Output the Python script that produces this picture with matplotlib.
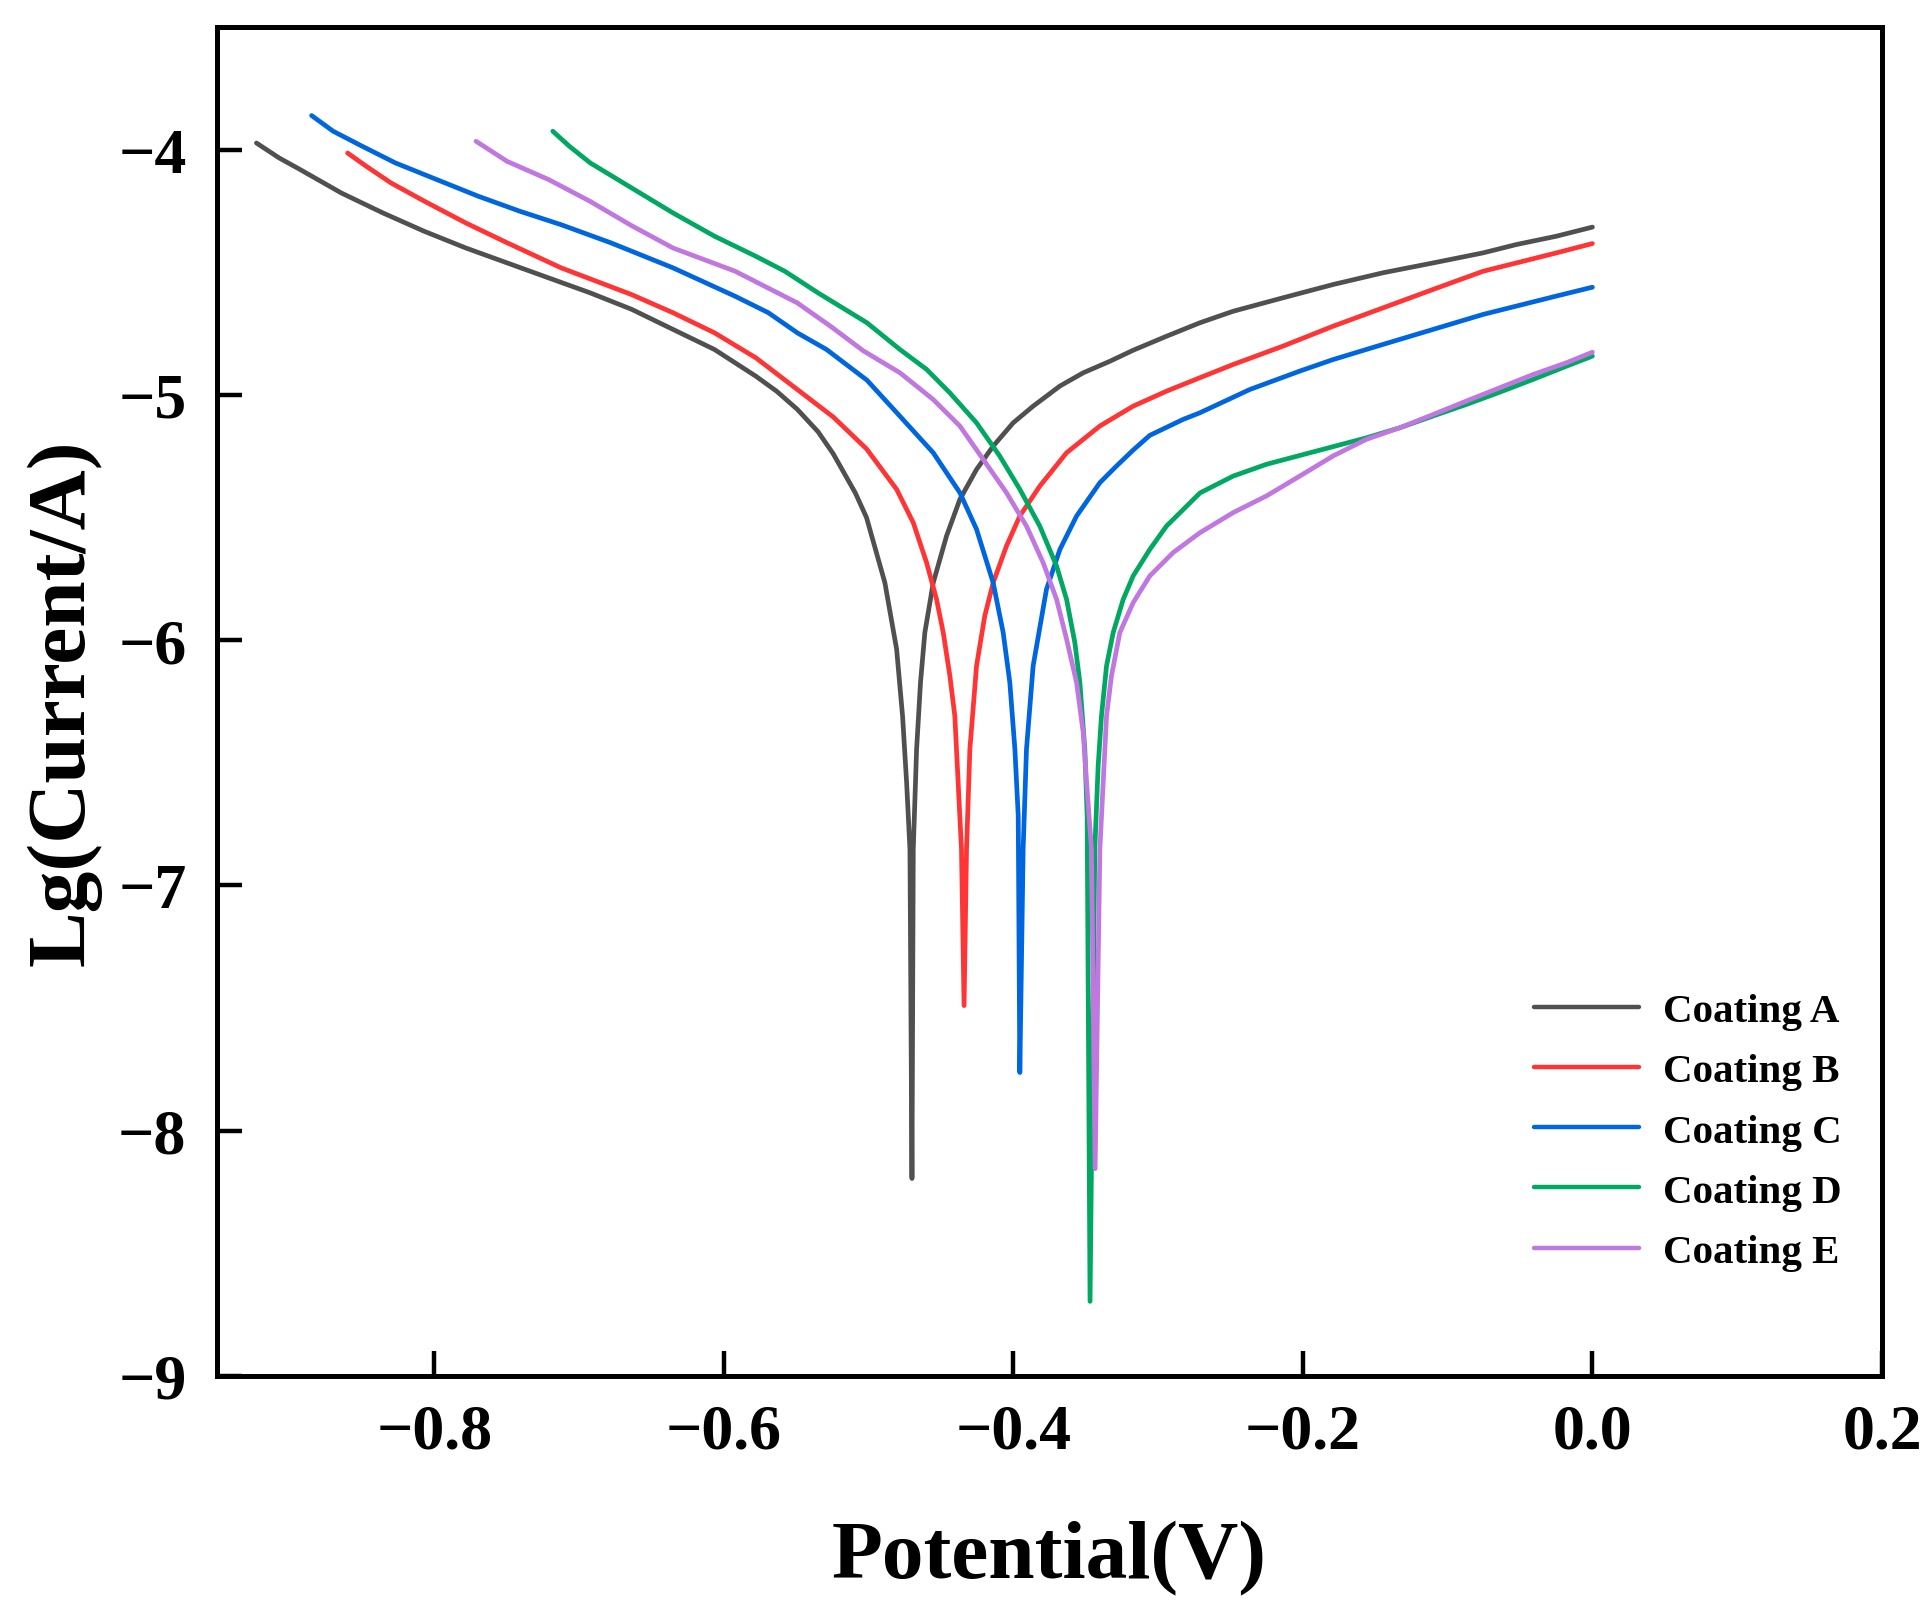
import matplotlib
matplotlib.use("Agg")
import matplotlib.pyplot as plt

# Tafel curves: potential (V) vs log10(current / A)
a_pot = [-0.9228, -0.9071, -0.8927, -0.8784, -0.8641, -0.8355, -0.8069, -0.7782, -0.7496, -0.7210,
         -0.6923, -0.6637, -0.6351, -0.6064, -0.5778, -0.5635, -0.5492, -0.5349, -0.5244, -0.5091,
         -0.5014, -0.4887, -0.4806, -0.4765, -0.4737, -0.4714, -0.4700, -0.4691, -0.4668, -0.4641,
         -0.4611, -0.4553, -0.4461, -0.4369, -0.4254, -0.4139, -0.4001, -0.3863, -0.3678, -0.3517,
         -0.3333, -0.3172, -0.2942, -0.2711, -0.2481, -0.2136, -0.1791, -0.1445, -0.1100, -0.0755,
         -0.0525, -0.0248, 0.0]
a_cur = [-3.973, -4.034, -4.081, -4.129, -4.177, -4.258, -4.333, -4.401, -4.462, -4.523,
         -4.584, -4.651, -4.733, -4.815, -4.924, -4.985, -5.059, -5.150, -5.24, -5.40,
         -5.50, -5.766, -6.037, -6.309, -6.580, -6.852, -8.195, -6.852, -6.445, -6.173,
         -5.969, -5.766, -5.575, -5.426, -5.304, -5.209, -5.114, -5.046, -4.964, -4.910,
         -4.863, -4.818, -4.761, -4.706, -4.659, -4.604, -4.550, -4.502, -4.462, -4.421,
         -4.387, -4.353, -4.316]

b_pot = [-0.8598, -0.8469, -0.8298, -0.8069, -0.7782, -0.7496, -0.7124, -0.6637, -0.6351, -0.6064,
         -0.5778, -0.5492, -0.5244, -0.5014, -0.4806, -0.4691, -0.4599, -0.4530, -0.4484, -0.4438,
         -0.4404, -0.4381, -0.4358, -0.4340, -0.4323, -0.4300, -0.4254, -0.4197, -0.4139, -0.4047,
         -0.3955, -0.3817, -0.3632, -0.3402, -0.3172, -0.2942, -0.2711, -0.2481, -0.2136, -0.1791,
         -0.1445, -0.1100, -0.0755, -0.0525, -0.0248, 0.0]
b_cur = [-4.014, -4.068, -4.136, -4.210, -4.299, -4.380, -4.482, -4.591, -4.665, -4.747,
         -4.849, -4.978, -5.090, -5.22, -5.385, -5.521, -5.684, -5.834, -5.969, -6.146,
         -6.309, -6.580, -6.852, -7.49, -6.852, -6.445, -6.105, -5.901, -5.766, -5.616,
         -5.494, -5.372, -5.236, -5.127, -5.046, -4.985, -4.930, -4.876, -4.801, -4.720,
         -4.645, -4.570, -4.496, -4.462, -4.421, -4.383]

c_pot = [-0.8847, -0.8698, -0.8498, -0.8269, -0.7983, -0.7696, -0.7410, -0.7124, -0.6780, -0.6351,
         -0.5921, -0.5692, -0.5492, -0.5290, -0.5011, -0.4783, -0.4553, -0.4369, -0.4254, -0.4139,
         -0.4070, -0.4024, -0.3989, -0.3966, -0.3955, -0.3932, -0.3909, -0.3863, -0.3771, -0.3678,
         -0.3563, -0.3402, -0.3287, -0.3172, -0.3057, -0.2827, -0.2711, -0.2366, -0.2021, -0.1791,
         -0.1445, -0.1100, -0.0755, -0.0525, -0.0248, 0.0]
c_cur = [-3.861, -3.925, -3.986, -4.054, -4.122, -4.190, -4.251, -4.306, -4.380, -4.482,
         -4.598, -4.665, -4.747, -4.815, -4.94, -5.087, -5.236, -5.399, -5.548, -5.766,
         -5.969, -6.173, -6.445, -6.716, -7.763, -6.852, -6.445, -6.105, -5.793, -5.630,
         -5.494, -5.358, -5.29, -5.225, -5.165, -5.100, -5.073, -4.978, -4.903, -4.856,
         -4.794, -4.733, -4.672, -4.638, -4.597, -4.561]

d_pot = [-0.7181, -0.7067, -0.6923, -0.6637, -0.6351, -0.6064, -0.5778, -0.5578, -0.5349, -0.5011,
         -0.4783, -0.4599, -0.4438, -0.4254, -0.4093, -0.3955, -0.3817, -0.3701, -0.3632, -0.3575,
         -0.3540, -0.3506, -0.3490, -0.3470, -0.3437, -0.3414, -0.3391, -0.3356, -0.3310, -0.3241,
         -0.3172, -0.3057, -0.2942, -0.2711, -0.2481, -0.2251, -0.1906, -0.1560, -0.1330, -0.1100,
         -0.0870, -0.0640, -0.0410, -0.0179, 0.0]
d_cur = [-3.925, -3.986, -4.054, -4.156, -4.258, -4.353, -4.435, -4.496, -4.584, -4.706,
         -4.815, -4.896, -4.992, -5.114, -5.250, -5.385, -5.535, -5.698, -5.834, -6.010,
         -6.173, -6.445, -6.716, -8.696, -6.852, -6.513, -6.309, -6.105, -5.969, -5.834,
         -5.738, -5.630, -5.535, -5.40, -5.331, -5.283, -5.229, -5.175, -5.134, -5.086,
         -5.039, -4.989, -4.937, -4.883, -4.842]

e_pot = [-0.7711, -0.7496, -0.7210, -0.6923, -0.6637, -0.6351, -0.5921, -0.5492, -0.5263, -0.5037,
         -0.4783, -0.4553, -0.4369, -0.4208, -0.4047, -0.3909, -0.3794, -0.3701, -0.3632, -0.3563,
         -0.3517, -0.3494, -0.3460, -0.3435, -0.3402, -0.3379, -0.3356, -0.3322, -0.3264, -0.3172,
         -0.3057, -0.2896, -0.2711, -0.2481, -0.2251, -0.2021, -0.1791, -0.1560, -0.1330, -0.1100,
         -0.0870, -0.0640, -0.0410, -0.0179, 0.0]
e_cur = [-3.966, -4.048, -4.122, -4.211, -4.310, -4.401, -4.496, -4.625, -4.720, -4.82,
         -4.910, -5.019, -5.127, -5.263, -5.399, -5.535, -5.684, -5.834, -5.996, -6.173,
         -6.377, -6.580, -6.852, -8.155, -6.852, -6.580, -6.309, -6.146, -5.969, -5.847,
         -5.738, -5.643, -5.562, -5.480, -5.412, -5.331, -5.249, -5.181, -5.134, -5.080,
         -5.025, -4.971, -4.917, -4.869, -4.826]

labels = ["Coating A", "Coating B", "Coating C", "Coating D", "Coating E"]
colors = ["#505050", "#ff3535", "#0066e0", "#00a862", "#c077e0"]

plt.rcParams['font.family'] = ['Liberation Serif', 'DejaVu Serif']
plt.rcParams['font.weight'] = 'bold'

fig = plt.figure(figsize=(19.31, 16.08), dpi=100)
ax = fig.add_axes([0.1124, 0.1437, 0.8622, 0.8389])

series = [(a_pot, a_cur), (b_pot, b_cur), (c_pot, c_cur), (d_pot, d_cur), (e_pot, e_cur)]
for (x, y), lab, col in zip(series, labels, colors):
    ax.plot(x, y, color=col, lw=3.4, label=lab, solid_capstyle='round', solid_joinstyle='round')

ax.set_xlim(-0.95, 0.2)
ax.set_ylim(-9, -3.5)
ax.set_xticks([-0.8, -0.6, -0.4, -0.2, 0.0, 0.2])
ax.set_xticklabels(["\u22120.8", "\u22120.6", "\u22120.4", "\u22120.2", "0.0", "0.2"])
ax.set_yticks([-9, -8, -7, -6, -5, -4])
ax.set_yticklabels(["\u22129", "\u22128", "\u22127", "\u22126", "\u22125", "\u22124"])

ax.tick_params(direction='in', length=18, width=3.2, labelsize=46, pad=20)
ax.tick_params(axis='y', pad=22)
for sp in ax.spines.values():
    sp.set_linewidth(3.6)

ax.set_xlabel("Potential(V)", fontsize=60, fontweight='bold', labelpad=42)
ax.set_ylabel("Lg(Current/A)", fontsize=60, fontweight='bold', labelpad=12)

leg = ax.legend(loc='center left', bbox_to_anchor=(0.791, 0.181), frameon=False,
                fontsize=29.5, handlelength=2.57, handletextpad=0.59,
                labelspacing=0.55, borderpad=0, borderaxespad=0)
for h in leg.get_lines():
    h.set_linewidth(3.2)

fig.savefig("out.png", dpi=100)
